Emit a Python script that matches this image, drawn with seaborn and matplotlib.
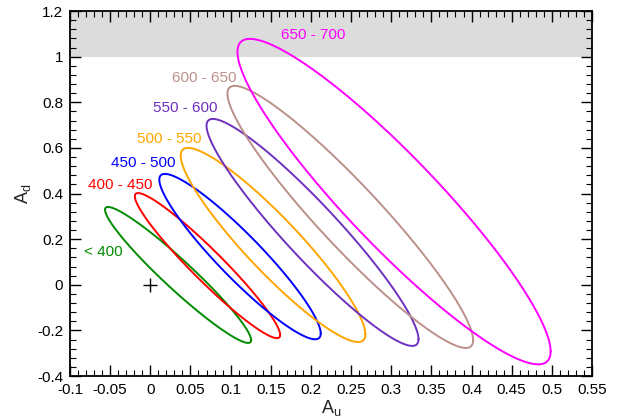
import numpy as np
import pandas as pd
import matplotlib
matplotlib.use("Agg")
import matplotlib.pyplot as plt
import seaborn as sns

# ellipse parameters (centre, half widths, correlation)
labels = ['< 400', '400 - 450', '450 - 500', '500 - 550', '550 - 600', '600 - 650', '650 - 700']
cx = [0.0346, 0.0712, 0.1117, 0.1528, 0.2020, 0.2490, 0.3035]
cy = [0.0430, 0.0840, 0.1235, 0.1745, 0.2295, 0.2975, 0.3645]
sx = [0.0910, 0.0905, 0.1005, 0.1150, 0.1320, 0.1530, 0.1950]
sy = [0.2980, 0.3180, 0.3625, 0.4255, 0.4975, 0.5745, 0.7135]
rho = [-0.958, -0.955, -0.930, -0.920, -0.940, -0.940, -0.920]
colors = ['#008C00', '#FF0000', '#0000FF', '#FFA500', '#6E30BE', '#BC908A', '#FF00FF']

# label positions
lab_x = [-0.0589, -0.0377, -0.0085, 0.0239, 0.0438, 0.0671, 0.2026]
lab_y = [0.1436, 0.4375, 0.534, 0.639, 0.775, 0.907, 1.095]

sns.set_style('ticks')
plt.rcParams['font.family'] = ['Liberation Sans', 'DejaVu Sans']
plt.rcParams['mathtext.default'] = 'regular'

t = np.linspace(0, 2 * np.pi, 400)
rows = []
for i in range(len(labels)):
    x = cx[i] + sx[i] * np.cos(t)
    y = cy[i] + sy[i] * (rho[i] * np.cos(t) + np.sqrt(1 - rho[i] ** 2) * np.sin(t))
    rows.append(pd.DataFrame({'Au': x, 'Ad': y, 'bin': labels[i]}))
df = pd.concat(rows, ignore_index=True)

fig = plt.figure(figsize=(6.24, 4.19), dpi=100)
ax = fig.add_axes([0.1122, 0.1026, 0.8365, 0.8711])

ax.axhspan(1.0, 1.2, color='#DCDCDC', lw=0, zorder=0)

sns.lineplot(data=df, x='Au', y='Ad', hue='bin', palette=dict(zip(labels, colors)),
             sort=False, estimator=None, units='bin', legend=False, lw=1.4, ax=ax)

for i in range(len(labels)):
    ax.text(lab_x[i], lab_y[i], labels[i], color=colors[i], fontsize=11,
            ha='center', va='center')

ax.plot([0], [0], marker='+', color='black', ms=10, mew=1.0, ls='none')

ax.set_xlim(-0.1, 0.55)
ax.set_ylim(-0.4, 1.2)
ax.set_xticks(np.arange(-0.1, 0.551, 0.05))
ax.set_xticklabels(['-0.1', '-0.05', '0', '0.05', '0.1', '0.15', '0.2', '0.25', '0.3',
                    '0.35', '0.4', '0.45', '0.5', '0.55'])
ax.set_yticks(np.arange(-0.4, 1.201, 0.2))
ax.set_yticklabels(['-0.4', '-0.2', '0', '0.2', '0.4', '0.6', '0.8', '1', '1.2'])
ax.set_xticks(np.arange(-0.1, 0.551, 0.01), minor=True)
ax.set_yticks(np.arange(-0.4, 1.201, 0.04), minor=True)
ax.tick_params(which='both', direction='in', top=True, right=True, colors='black',
               labelsize=11)
ax.tick_params(which='major', length=8, width=1.0, pad=5)
ax.tick_params(which='minor', length=4, width=0.8)
for s in ax.spines.values():
    s.set_linewidth(1.3)
    s.set_color('black')

ax.set_xlabel('A$_u$', fontsize=13, labelpad=1)
ax.set_ylabel('A$_d$', fontsize=13, labelpad=3)

fig.savefig('out.png', dpi=100)
